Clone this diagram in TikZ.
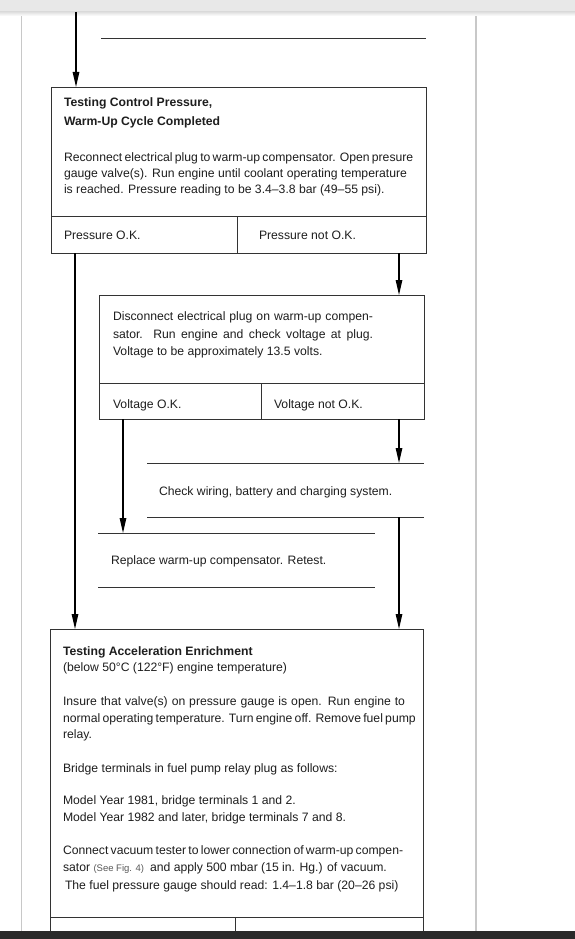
\documentclass[tikz,border=0pt]{standalone}
\usepackage{fontspec}
\setmainfont{Liberation Sans}
\usetikzlibrary{arrows.meta}
\definecolor{barcol}{HTML}{E8E8E8}
\definecolor{darkbar}{HTML}{2A2A2A}
\definecolor{pagegray}{HTML}{C8C8C8}
\definecolor{linegray}{HTML}{333333}
\definecolor{ink}{HTML}{1E1E1E}
\begin{document}
\begin{tikzpicture}[x=1pt,y=-1pt,
  box/.style={draw=linegray, line width=0.9pt, inner sep=0pt, outer sep=0pt, anchor=north west},
  hidden/.style={inner sep=0pt, outer sep=0pt, anchor=north west},
  rule/.style={draw=linegray, line width=0.9pt},
  arr/.style={draw=black, line width=1.2pt, -{Triangle[length=15pt,width=6.5pt]}},
  txt/.style={anchor=base west, inner sep=0pt, outer sep=0pt, text=ink, font=\fontsize{12.2}{14}\selectfont},
  ttl/.style={txt, font=\fontsize{12.2}{14}\selectfont\bfseries},
]
\useasboundingbox (0,0) rectangle (575,939);
\fill[white] (0,0) rectangle (575,939);
% page frame
\draw[pagegray, line width=0.8pt] (21,12) -- (21,931);
\draw[pagegray, line width=2pt] (476,12) -- (476,931);
\fill[barcol] (0,0) rectangle (575,12);
\shade[top color=black!12, bottom color=white] (0,12) rectangle (575,16);

% previous box bottom rule
\coordinate (prevL) at (101,38);
\coordinate (prevR) at (426,38);
\draw[rule] (prevL) -- (prevR);
\coordinate (topin) at (76,12);

% ---------- Box 1 ----------
\node[box, minimum width=375pt, minimum height=166pt] (b1) at (51,87) {};
\coordinate (b1div) at (51,216);
\draw[rule] (b1div) -- (b1div -| b1.east);
\coordinate (b1mid) at (237,216);
\draw[rule] (b1mid) -- (b1mid |- b1.south);
\node[ttl] (t1a) at (64,107) {Testing Control Pressure,};
\node[ttl] (t1b) at (64,126) {Warm-Up Cycle Completed};
\node[txt] (t1c) at (64,161) {\makebox[343pt][s]{Reconnect electrical plug to warm-up compensator. Open presure}};
\node[txt] (t1d) at (64,177) {\makebox[343pt][s]{gauge valve(s). Run engine until coolant operating temperature}};
\node[txt] (t1e) at (64,193) {is reached. Pressure reading to be 3.4\textendash3.8 bar (49\textendash55 psi).};
\node[txt] (pok) at (64,239) {Pressure O.K.};
\node[txt] (pnok) at (259,239) {Pressure not O.K.};

% ---------- Box 2 ----------
\node[box, minimum width=325pt, minimum height=124pt] (b2) at (99,295) {};
\coordinate (b2div) at (99,383);
\draw[rule] (b2div) -- (b2div -| b2.east);
\coordinate (b2mid) at (261,383);
\draw[rule] (b2mid) -- (b2mid |- b2.south);
\node[txt] (t2a) at (113,320) {\makebox[260pt][s]{Disconnect electrical plug on warm-up compen-}};
\node[txt] (t2b) at (113,338) {\makebox[260pt][s]{sator. Run engine and check voltage at plug.}};
\node[txt] (t2c) at (113,355) {Voltage to be approximately 13.5 volts.};
\node[txt] (vok) at (113,408) {Voltage O.K.};
\node[txt] (vnok) at (274,408) {Voltage not O.K.};

% ---------- Check wiring ----------
\node[hidden, minimum width=277pt, minimum height=54pt] (chk) at (147,463) {};
\draw[rule] (chk.north west) -- (chk.north east);
\draw[rule] (chk.south west) -- (chk.south east);
\node[txt] (tchk) at (159,495) {Check wiring, battery and charging system.};

% ---------- Replace ----------
\node[hidden, minimum width=277pt, minimum height=54pt] (rep) at (98,533) {};
\draw[rule] (rep.north west) -- (rep.north east);
\draw[rule] (rep.south west) -- (rep.south east);
\node[txt] (trep) at (111,564) {Replace warm-up compensator. Retest.};

% ---------- Box 3 ----------
\node[box, minimum width=373pt, minimum height=302pt] (b3) at (50,629) {};
\coordinate (b3div) at (50,917);
\draw[rule] (b3div) -- (b3div -| b3.east);
\coordinate (b3mid) at (235,917);
\draw[rule] (b3mid) -- (b3mid |- b3.south);
\node[ttl] (t3a) at (63,655) {Testing Acceleration Enrichment};
\node[txt] (t3b) at (63,671) {(below 50°C (122°F) engine temperature)};
\node[txt] (t3c) at (63,705) {\makebox[342pt][s]{Insure that valve(s) on pressure gauge is open. Run engine to}};
\node[txt] (t3d) at (63,722) {\makebox[342pt][s]{normal operating temperature. Turn engine off. Remove fuel pump}};
\node[txt] (t3e) at (63,738) {relay.};
\node[txt] (t3f) at (63,772) {Bridge terminals in fuel pump relay plug as follows:};
\node[txt] (t3g) at (63,804) {Model Year 1981, bridge terminals 1 and 2.};
\node[txt] (t3h) at (63,821) {Model Year 1982 and later, bridge terminals 7 and 8.};
\node[txt] (t3i) at (63,854) {\makebox[339pt][s]{Connect vacuum tester to lower connection of warm-up compen-}};
\node[txt] (t3j) at (63,871) {sator {\fontsize{9.5}{11}\selectfont\color{black!65}(See Fig. 4)}\hspace{6pt}and apply 500 mbar (15 in. Hg.) of vacuum.};
\node[txt] (t3k) at (65,889) {The fuel pressure gauge should read: 1.4\textendash1.8 bar (20\textendash26 psi)};

% ---------- connectors ----------
\coordinate (xl) at (75,0);
\coordinate (xr) at (399,0);
\coordinate (xv) at (123,0);
\draw[arr] (topin) -- (topin |- b1.north);
\draw[arr] (xl |- b1.south) -- (xl |- b3.north);
\draw[arr] (xr |- b1.south) -- (xr |- b2.north);
\draw[arr] (xv |- b2.south) -- (xv |- rep.north);
\draw[arr] (xr |- b2.south) -- (xr |- chk.north);
\draw[arr] (xr |- chk.south) -- (xr |- b3.north);

% bottom bar
\fill[darkbar] (0,931) rectangle (575,939);
\end{tikzpicture}
\end{document}
